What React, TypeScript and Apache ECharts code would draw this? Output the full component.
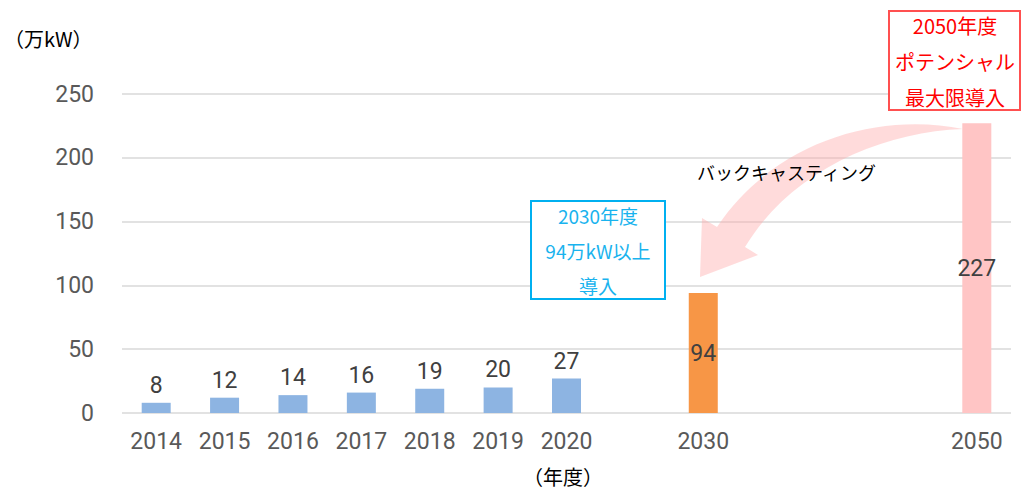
import React, { useEffect, useRef } from "react";
import * as echarts from "echarts";

const categories = ["2014", "2015", "2016", "2017", "2018", "2019", "2020", "", "2030", "", "", "", "2050"];
const values: (number | null)[] = [8, 12, 14, 16, 19, 20, 27, null, 94, null, null, null, 227];
const groups = ["actual", "actual", "actual", "actual", "actual", "actual", "actual", "", "target", "", "", "", "potential"];
const yTicks = [0, 50, 100, 150, 200, 250];

const FONT = "'Noto Sans CJK JP', 'Noto Sans', sans-serif";
const NUM_FONT = "Roboto, 'Noto Sans', sans-serif";

const colorOf: Record<string, string> = {
  actual: "#8DB4E2",
  target: "#F79646",
  potential: "#FFC5C5",
};

const ARROW_D =
  "M 963 129 C 880 112, 775 140, 717 227 L 702 218 L 700 277 L 758 255 L 745 247 C 790 172, 880 132, 963 129 Z";

export default function App() {
  const ref = useRef<HTMLDivElement>(null);
  useEffect(() => {
    if (!ref.current) return;
    try {
      echarts.graphic.registerShape("backArrow", echarts.graphic.extendPath(ARROW_D, {}));
    } catch (e) {}
    const chart = echarts.init(ref.current, null, { renderer: "svg" });
    const data = values.map((v, i) => {
      const g = groups[i];
      if (v === null) return { value: "-" };
      const inside = g !== "actual";
      return {
        value: v,
        itemStyle: { color: colorOf[g] },
        label: {
          show: true,
          position: inside ? "inside" : "top",
          distance: 6,
          color: "#404040",
          fontSize: 23,
          fontFamily: NUM_FONT,
        },
      };
    });
    chart.setOption({
      animation: false,
      grid: { left: 122, right: 11, top: 94, bottom: 76, containLabel: false },
      xAxis: {
        type: "category",
        data: categories,
        axisLine: { show: false },
        axisTick: { show: false },
        axisLabel: { color: "#595959", fontSize: 23, fontFamily: NUM_FONT, margin: 17, interval: 0 },
      },
      yAxis: {
        type: "value",
        min: yTicks[0],
        max: yTicks[yTicks.length - 1],
        interval: 50,
        axisLine: { show: false },
        axisTick: { show: false },
        axisLabel: { color: "#595959", fontSize: 23, fontFamily: NUM_FONT, margin: 28 },
        splitLine: { lineStyle: { color: "#D9D9D9", width: 1.5 } },
      },
      series: [
        {
          type: "bar",
          data,
          barWidth: 29,
          z: 3,
        },
      ],
      graphic: [
        {
          type: "backArrow",
          x: 0,
          y: 0,
          z: 1,
          style: { fill: "rgba(255,170,170,0.42)" },
        },
        {
          type: "text",
          z: 10,
          style: { text: "（万kW）", x: 4, y: 38, fill: "#000", fontSize: 20, fontFamily: FONT, align: "left", verticalAlign: "middle" },
        },
        {
          type: "text",
          z: 10,
          style: { text: "（年度）", x: 563, y: 476, fill: "#000", fontSize: 20, fontFamily: FONT, align: "center", verticalAlign: "middle" },
        },
        {
          type: "text",
          z: 10,
          style: { text: "バックキャスティング", x: 697, y: 172, fill: "#000", fontSize: 18, fontFamily: FONT, align: "left", verticalAlign: "middle" },
        },
        {
          type: "rect",
          z: 10,
          shape: { x: 531, y: 201, width: 134, height: 98 },
          style: { fill: "#fff", stroke: "#00B0F0", lineWidth: 2 },
        },
        {
          type: "text",
          z: 11,
          style: { text: "2030年度\n94万kW以上\n導入", x: 598, y: 250, fill: "#19B3EE", fontSize: 19, lineHeight: 35, fontFamily: FONT, align: "center", verticalAlign: "middle" },
        },
        {
          type: "rect",
          z: 10,
          shape: { x: 889, y: 11, width: 131, height: 99 },
          style: { fill: "#fff", stroke: "#FF5050", lineWidth: 2 },
        },
        {
          type: "text",
          z: 11,
          style: { text: "2050年度\nポテンシャル\n最大限導入", x: 955, y: 61, fill: "#FF0000", fontSize: 20, lineHeight: 36, fontFamily: FONT, align: "center", verticalAlign: "middle" },
        },
      ],
    });
    return () => chart.dispose();
  }, []);
  return <div ref={ref} style={{ position: "fixed", left: 0, top: 0, width: 1022, height: 489, background: "#fff" }} />;
}
